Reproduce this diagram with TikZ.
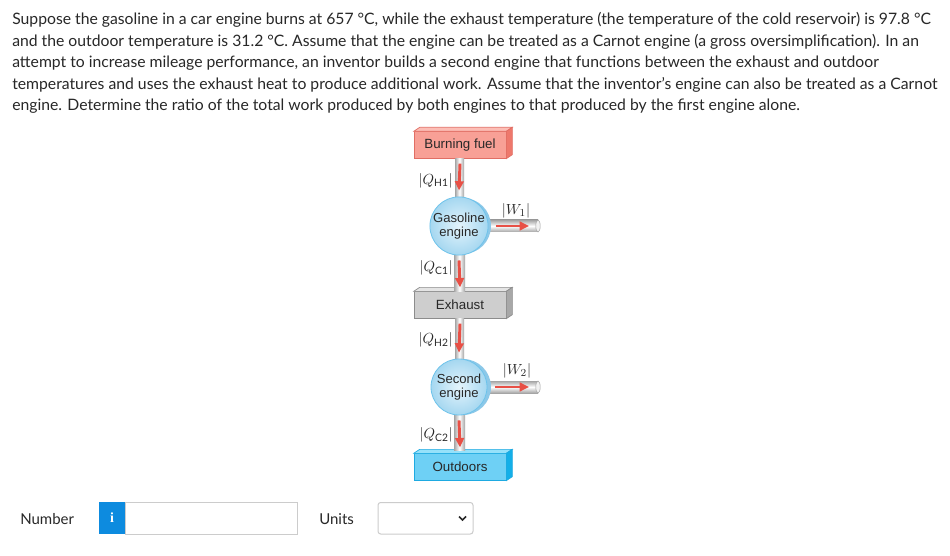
\documentclass[tikz,border=0pt]{standalone}
\usepackage{fontspec}
\setmainfont{Lato}
\newfontfamily\labfont{Liberation Sans}
\newfontfamily\serifont{Liberation Serif}
\usetikzlibrary{calc,arrows.meta}
\definecolor{txt}{RGB}{40,40,40}
\definecolor{fuelF}{RGB}{248,160,150}
\definecolor{fuelT}{RGB}{252,190,182}
\definecolor{fuelS}{RGB}{238,120,108}
\definecolor{fuelB}{RGB}{225,110,100}
\definecolor{exF}{RGB}{206,206,206}
\definecolor{exT}{RGB}{228,228,228}
\definecolor{exS}{RGB}{168,168,168}
\definecolor{exB}{RGB}{140,140,140}
\definecolor{outF}{RGB}{110,208,245}
\definecolor{outT}{RGB}{150,225,250}
\definecolor{outS}{RGB}{20,175,232}
\definecolor{outB}{RGB}{30,170,225}
\definecolor{engIn}{RGB}{228,244,252}
\definecolor{engOut}{RGB}{165,215,240}
\definecolor{engBd}{RGB}{110,195,235}
\definecolor{engBack}{RGB}{140,200,232}
\definecolor{pipeG}{RGB}{165,165,165}
\definecolor{flowR}{RGB}{232,80,70}
\definecolor{infoB}{RGB}{13,139,223}
\definecolor{fieldB}{RGB}{204,204,204}
\tikzset{
  x=0.75pt, y=-0.75pt,
  line/.style={font=\fontsize{11.8pt}{14pt}\selectfont, text=txt, anchor=base west, inner sep=0},
  resv/.style={draw=#1, line width=0.5pt, minimum width=69pt, minimum height=20pt, inner sep=0,
    font=\labfont\fontsize{10pt}{11pt}\selectfont, text=txt},
  engine/.style={circle, draw=engBd, line width=0.6pt, inner color=engIn, outer color=engOut,
    minimum size=42pt, inner sep=0, align=center, font=\labfont\fontsize{9.8pt}{11pt}\selectfont, text=txt},
  vpipe/.style={left color=pipeG, right color=pipeG, middle color=white},
  hpipe/.style={top color=pipeG, bottom color=pipeG, middle color=white},
  flow/.style={flowR, line width=2.2pt, -{Triangle[length=7pt,width=6.5pt]}},
  qlab/.style={font=\fontsize{11pt}{12pt}\selectfont, text=txt, inner sep=0},
  ui/.style={font=\fontsize{11.25pt}{13pt}\selectfont, text=txt, anchor=base west, inner sep=0},
  field/.style={draw=fieldB, line width=0.75pt}
}
\begin{document}
\begin{tikzpicture}
\useasboundingbox[fill=white] (0,0) rectangle (950,556);
% question text
\node[line] (l1) at (12,25) {Suppose the gasoline in a car engine burns at 657~°C, while the exhaust temperature (the temperature of the cold reservoir) is 97.8~°C};
\node[line] (l2) at (12,46.5) {and the outdoor temperature is 31.2~°C. Assume that the engine can be treated as a Carnot engine (a gross oversimplification). In an};
\node[line] (l3) at (12,68) {attempt to increase mileage performance, an inventor builds a second engine that functions between the exhaust and outdoor};
\node[line] (l4) at (12,89.5) {temperatures and uses the exhaust heat to produce additional work. Assume that the inventor{\char"0027}s engine can also be treated as a Carnot};
\node[line] (l5) at (12,111) {engine. Determine the ratio of the total work produced by both engines to that produced by the first engine alone.};

% reservoirs
\node[resv=fuelB, fill=fuelF] (fuel) at (460,145) {Burning fuel};
\node[resv=exB, fill=exF] (exh) at (460,305) {Exhaust};
\node[resv=outB, fill=outF] (out) at (460,467) {Outdoors};
\foreach \r/\t/\s/\b in {fuel/fuelT/fuelS/fuelB, exh/exT/exS/exB, out/outT/outS/outB}{
  \filldraw[fill=\t, draw=\b, line width=0.5pt] (\r.north west) -- ++(6,-4) -- ($(\r.north east)+(6,-4)$) -- (\r.north east) -- cycle;
  \filldraw[fill=\s, draw=\b, line width=0.5pt] (\r.north east) -- ++(6,-4) -- ($(\r.south east)+(6,-4)$) -- (\r.south east) -- cycle;
}

% engine positions
\coordinate (e1c) at (459,226);
\coordinate (e2c) at (459,387);

% vertical pipes
\shade[vpipe] ($(fuel.south)+(-5,0)$) rectangle ($(e1c)+(5,0)$);
\shade[vpipe] ($(e1c)+(-5,0)$) rectangle ($(exh.north)+(5,0)$);
\shade[vpipe] ($(exh.south)+(-5,0)$) rectangle ($(e2c)+(5,0)$);
\shade[vpipe] ($(e2c)+(-5,0)$) rectangle ($(out.north)+(5,-3)$);
% horizontal work pipes
\foreach \c in {e1c,e2c}{
  \shade[hpipe] ($(\c)+(0,-6)$) rectangle ($(\c)+(79,6)$);
  \filldraw[fill=white!85!pipeG, draw=pipeG, line width=0.4pt] ($(\c)+(79,0)$) ellipse [x radius=2.2, y radius=6];
}

% engines (back disc + front)
\fill[engBack] ($(e1c)+(4,0)$) circle [radius=28];
\fill[engBack] ($(e2c)+(4,0)$) circle [radius=28];
\node[engine] (eng1) at (e1c) {Gasoline\\engine};
\node[engine] (eng2) at (e2c) {Second\\engine};

% flow arrows
\draw[flow] ($(fuel.south)+(0,5)$) -- ($(eng1.north)+(0,-6)$);
\draw[flow] ($(eng1.south)+(0,5)$) -- ($(exh.north)+(0,-4)$);
\draw[flow] ($(exh.south)+(0,5)$) -- ($(eng2.north)+(0,-6)$);
\draw[flow] ($(eng2.south)+(0,5)$) -- ($(out.north)+(0,-6)$);
\draw[flow, line width=2pt] ($(eng1.east)+(8,0)$) -- ($(e1c)+(70,0)$);
\draw[flow, line width=2pt] ($(eng2.east)+(8,0)$) -- ($(e2c)+(70,0)$);

% labels
\node[qlab, anchor=east] (qh1) at (453,181) {$|Q_{\mathrm{H1}}|$};
\node[qlab] (w1) at (516,211) {$|W_1|$};
\node[qlab, anchor=east] (qc1) at (453,268) {$|Q_{\mathrm{C1}}|$};
\node[qlab, anchor=east] (qh2) at (453,340) {$|Q_{\mathrm{H2}}|$};
\node[qlab] (w2) at (517,371) {$|W_2|$};
\node[qlab, anchor=east] (qc2) at (453,435) {$|Q_{\mathrm{C2}}|$};

% answer row
\node[ui] (num) at (20,524) {Number};
\fill[infoB] (99,502) rectangle (125,534);
\node[font=\serifont\bfseries\fontsize{10.5pt}{10.5pt}\selectfont, text=white, inner sep=0] (info) at (112,518) {i};
\draw[field] (125,502.5) rectangle (297,534);
\node[ui] (units) at (319,524) {Units};
\draw[field, rounded corners=2pt] (378,502.5) rectangle (473,534);
\draw[txt, line width=1.3pt] (459,516.5) -- (462.5,520) -- (466,516.5);
\end{tikzpicture}
\end{document}
